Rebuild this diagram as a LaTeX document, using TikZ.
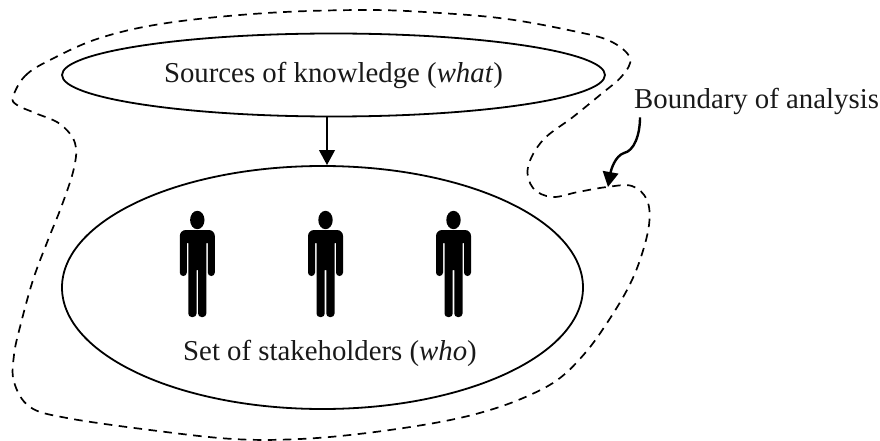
\documentclass[tikz,border=0pt]{standalone}
\usepackage{fontspec}
\setmainfont{Liberation Serif}
\usetikzlibrary{shapes.geometric,arrows.meta}
\tikzset{
  txt/.style={font=\fontsize{28.8}{30}\selectfont,inner sep=0pt,text=black!90},
  oval/.style={draw=black,line width=1.8pt,shape=ellipse,inner sep=0pt},
  boundaryline/.style={draw=black,line width=1.7pt,dash pattern=on 8.5pt off 6.5pt},
  arr/.style={draw=black,line width=2.4pt,-{Triangle[length=15pt,width=15.5pt]}},
  personfig/.pic={
    \fill[black] (0,220) ellipse [x radius=7.2pt,y radius=9.2pt];
    \fill[black]
      [rounded corners=3.4pt] (-17.5,276) -- (-17.5,250)
      [rounded corners=6pt] -- (-17.5,230) -- (17.5,230) -- (17.5,250)
      [rounded corners=3.4pt] -- (17.5,276) -- (10.5,276)
      [sharp corners] -- (10.5,243) -- (9,243)
      [rounded corners=3.4pt] -- (9,317) -- (0.8,317)
      [sharp corners] -- (0.8,270) -- (-0.8,270)
      [rounded corners=3.4pt] -- (-0.8,317) -- (-9,317)
      [sharp corners] -- (-9,243) -- (-10.5,243)
      [rounded corners=3.4pt] -- (-10.5,276) -- cycle;
  }
}
\begin{document}
\begin{tikzpicture}[x=1pt,y=-1pt]
\useasboundingbox (0,0) rectangle (880,441);
\node[oval,txt,minimum width=543pt,minimum height=83pt] (src) at (333.5,75) {Sources of knowledge (\textit{what})};
\node[oval,minimum width=521pt,minimum height=243pt] (stk) at (322.5,287.5) {};
\node[txt,anchor=base] (stktxt) at (330,360) {Set of stakeholders (\textit{who})};
\node[txt,anchor=base west] (bnd) at (634,109) {Boundary of analysis};
\coordinate (ax) at (327,0);
\draw[arr] (src.south -| ax) -- (stk.north -| ax);
\pic at (197.3,0) {personfig};
\pic at (325.5,0) {personfig};
\pic at (453.5,0) {personfig};
\draw[boundaryline] plot[smooth cycle,tension=0.6] coordinates {
 (13,97) (25,76) (50,60) (100,38) (167,23) (267,13) (367,10) (440,13)
 (507,19) (573,31) (610,41) (630,58) (622,76) (600,95) (573,117) (543,140)
 (528,167) (533,188) (552,197) (578,192) (607,187) (632,186) (647,200)
 (649,225) (640,260) (627,290) (607,323) (586,352) (560,378) (530,395) (490,410)
 (440,422) (367,433) (300,439) (233,439) (150,430) (67,418) (30,407)
 (14,382) (14,355) (20,327) (33,280) (48,240) (62,205) (74,168) (75,143)
 (60,124) (35,113) (17,105)};
\coordinate (tip) at (608,187);
\coordinate (kink) at (624,153);
\draw[arr] (bnd.south west) ++(6,2) .. controls (640,135) and (634,151) .. (kink) .. controls (615,156) and (611,170) .. (tip);
\end{tikzpicture}
\end{document}
